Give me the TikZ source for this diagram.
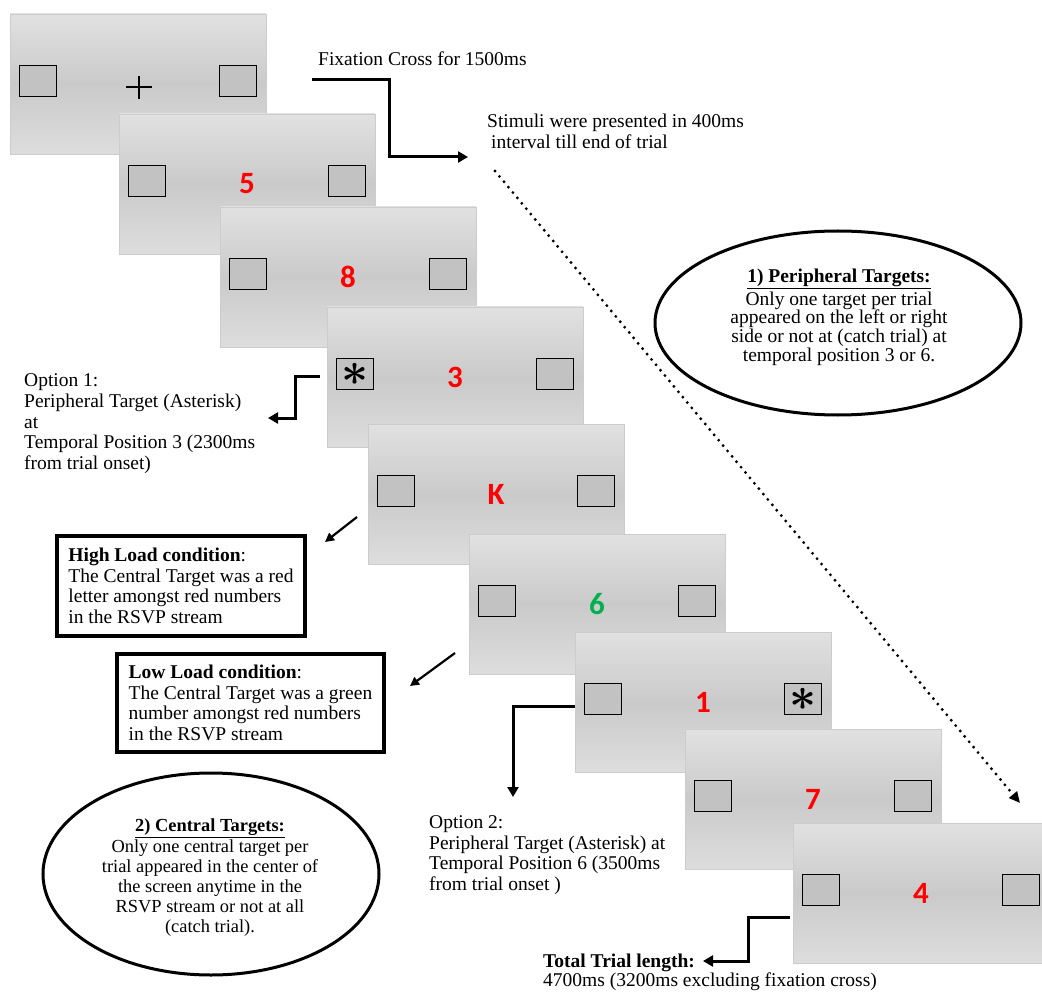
\documentclass[tikz,border=0pt]{standalone}
\usepackage{fontspec}
\usepackage{graphicx}
\setmainfont{Liberation Serif}
\newfontfamily\digitfont{Carlito}
\usetikzlibrary{positioning,arrows.meta,shapes.geometric,calc}

\definecolor{scrtop}{HTML}{E1E1E1}
\definecolor{scrmid}{HTML}{CACACA}
\definecolor{scrbot}{HTML}{DDDDDD}
\definecolor{scredge}{HTML}{CCCCCC}
\definecolor{boxgrey}{HTML}{C2C2C2}
\definecolor{digitgreen}{HTML}{00B050}

\newcommand{\ScrW}{256pt}
\newcommand{\ScrH}{140pt}
\newcommand{\BoxW}{37pt}
\newcommand{\BoxH}{31pt}
\newcommand{\BoxGap}{9pt}
\newcommand{\TxtFont}{\fontsize{19.5}{20.6}\selectfont}
\newcommand{\Star}{\scalebox{4.7}{\boldmath$\ast$}}

\begin{document}
\begin{tikzpicture}[x=1pt,y=-1pt,
	screen/.style={rectangle,draw=scredge,line width=0.8pt,minimum width=\ScrW,minimum height=\ScrH,inner sep=0pt,
		top color=scrtop,bottom color=scrbot,middle color=scrmid,text=red,font=\digitfont\bfseries\fontsize{31}{31}\selectfont},
	target/.style={rectangle,draw=black,line width=1.6pt,fill=boxgrey,minimum width=\BoxW,minimum height=\BoxH,inner sep=0pt,yshift=3pt},
	txt/.style={inner sep=0pt,align=left,font=\TxtFont},
	panel/.style={draw=black,line width=3.5pt,inner sep=0pt,align=left,font=\TxtFont},
	oval/.style={ellipse,draw=black,line width=3pt,inner sep=0pt},
	conn/.style={line width=3pt,-{Triangle[length=10pt,width=11pt]}},
	pointer/.style={line width=2.2pt,-{Triangle[length=9pt,width=9pt]}},
	trail/.style={line width=3.2pt,line cap=round,dash pattern=on 0pt off 7pt,-{Triangle[length=11pt,width=10pt]}}]

	\useasboundingbox (0,0) rectangle (1042,992);
	\clip (0,0) rectangle (1042,992);

	%The fixation screen
	\node[screen] (s1) at (138,84) {};
	\node[target, right=\BoxGap of s1.west] (s1l) {};
	\node[target, left=\BoxGap of s1.east] (s1r) {};
	\draw[line width=1.2pt] ($(s1.center)+(-12,3)$) -- ++(26,0);
	\draw[line width=1.2pt] ($(s1.center)+(1,-8)$) -- ++(0,23);

	%The RSVP screens
	\node[screen] (s2) at (247,184) {5};
	\node[target, right=\BoxGap of s2.west] (s2l) {};
	\node[target, left=\BoxGap of s2.east] (s2r) {};

	\node[screen] (s3) at (348,277) {8};
	\node[target, right=\BoxGap of s3.west] (s3l) {};
	\node[target, left=\BoxGap of s3.east] (s3r) {};

	\node[screen] (s4) at (455,377) {3};
	\node[target, right=\BoxGap of s4.west] (s4l) {\Star};
	\node[target, left=\BoxGap of s4.east] (s4r) {};

	\node[screen] (s5) at (496,494) {K};
	\node[target, right=\BoxGap of s5.west] (s5l) {};
	\node[target, left=\BoxGap of s5.east] (s5r) {};

	\node[screen, text=digitgreen] (s6) at (597,604) {6};
	\node[target, right=\BoxGap of s6.west] (s6l) {};
	\node[target, left=\BoxGap of s6.east] (s6r) {};

	\node[screen] (s7) at (703,702) {1};
	\node[target, right=\BoxGap of s7.west] (s7l) {};
	\node[target, left=\BoxGap of s7.east] (s7r) {\Star};

	\node[screen] (s8) at (813,799) {7};
	\node[target, right=\BoxGap of s8.west] (s8l) {};
	\node[target, left=\BoxGap of s8.east] (s8r) {};

	\node[screen] (s9) at (921,893) {4};
	\node[target, right=\BoxGap of s9.west] (s9l) {};
	\node[target, left=\BoxGap of s9.east] (s9r) {};

	%The notes
	\node[txt, anchor=base west] (fixtxt) at (318,66) {Fixation Cross for 1500ms};
	\node[txt, anchor=north west, font=\fontsize{19.5}{21}\selectfont] (stimtxt) at (487,113.7)
		{Stimuli were presented in 400ms\\\hspace*{4pt}interval till end of trial};
	\node[txt, anchor=north west] (opt1) at (24,373.7)
		{Option 1:\\Peripheral Target (Asterisk)\\at\\Temporal Position 3 (2300ms\\from trial onset)};
	\node[txt, anchor=north west, font=\fontsize{19.5}{20.4}\selectfont] (opt2) at (429,815.7)
		{Option 2:\\Peripheral Target (Asterisk) at\\Temporal Position 6 (3500ms\\from trial onset )};
	\node[txt, anchor=north west, font=\fontsize{19.5}{19}\selectfont] (total) at (543,953.7)
		{\textbf{Total Trial length:}\\4700ms (3200ms excluding fixation cross)};

	%The load conditions
	\node[panel, minimum width=248pt, minimum height=100pt] (high) at (181,586)
		{\textbf{High Load condition}:\\The Central Target was a red\\letter amongst red numbers\\in the RSVP stream};
	\node[panel, minimum width=267pt, minimum height=98pt] (low) at (250.5,703)
		{\textbf{Low Load condition}:\\The Central Target was a green\\number amongst red numbers\\in the RSVP stream};

	%The target ellipses
	\node[oval, minimum width=366pt, minimum height=184pt] (ell1) at (838,323) {};
	\node[txt, align=center, font=\fontsize{19.5}{18.6}\selectfont] (ell1txt) at (839,317)
		{\underline{\textbf{1) Peripheral Targets:}}\\[2pt]Only one target per trial\\appeared on the left or right\\side or not at (catch trial) at\\temporal position 3 or 6.};
	\node[oval, minimum width=336pt, minimum height=202pt] (ell2) at (211,874) {};
	\node[txt, align=center, font=\fontsize{18.4}{20}\selectfont] (ell2txt) at (210,878)
		{\underline{\textbf{2) Central Targets:}}\\[1pt]Only one central target per\\trial appeared in the center of\\the screen anytime in the\\RSVP stream or not at all\\(catch trial).};

	%The arrows
	\coordinate (fixA) at (312,80);
	\coordinate (fixB) at (468,157);
	\coordinate (o1A) at (320,377);
	\coordinate (o1B) at (268,418);
	\coordinate (hiA) at (357,517);
	\coordinate (hiB) at (325,542);
	\coordinate (loA) at (455,653);
	\coordinate (loB) at (410,686);
	\coordinate (o2A) at (575,706);
	\coordinate (o2B) at (513,797);
	\coordinate (totA) at (790,917);
	\coordinate (totB) at (703,961);
	\coordinate (dotA) at (495,171);
	\coordinate (dotB) at (1020,803);

	\draw[conn] (fixA) -- ++(77,0) |- (fixB);
	\draw[conn] (o1A) -- ++(-25,0) |- (o1B);
	\draw[pointer] (hiA) -- (hiB);
	\draw[pointer] (loA) -- (loB);
	\draw[conn] (o2A) -| (o2B);
	\draw[conn] (totA) -- ++(-42,0) |- (totB);
	\draw[trail] (dotA) -- (dotB);

\end{tikzpicture}
\end{document}
